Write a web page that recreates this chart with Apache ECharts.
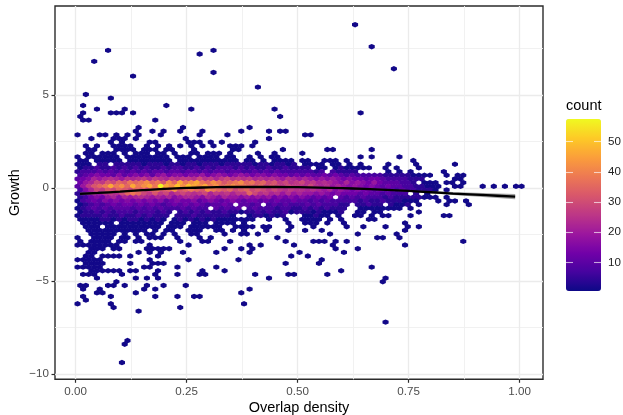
<!DOCTYPE html>
<html><head><meta charset="utf-8">
<style>html,body{margin:0;padding:0;background:#fff}#c{width:623px;height:415px}</style>
<script src="https://cdn.jsdelivr.net/npm/echarts@6/dist/echarts.min.js"></script>
</head><body><div id="c"></div>
<script>
// Hexagon lattice (stat_binhex-style bins)
const rowTopY = 8.78, rowStepY = 0.1975, colStepX = 0.0125, colStartX = [0.0044, 0.0106];
// count codes
const countCodes = {a:1,b:4,c:7,d:10,e:13,f:16,g:19,h:22,i:24,j:26,k:29,l:32,m:35,n:38,o:42,p:46,q:50,r:57};
// rows of single-count cells: [row, columns]
const sparseRows = [
[0,[50]],[6,[53]],[7,[5,24]],[8,[22]],[10,[3]],[12,[57]],[13,[24]],[14,[10]],[17,[32]],[19,[1]],[20,[6]],
[22,[1,16]],[23,[3,8,20,35]],[24,[1,6,7,8,10,51]],[25,[0,36]],[26,[1,2,14]],[28,[11,19,31]],
[29,[10,13,15,18,22,29,34,36,37]],[30,[0,4,5,7,9,11,15,22,27,41,42]],[31,[2,6,7,8,10,19,34]],
[32,[6,8,13,14,20,21,22,24,26,32]],[33,[1,3,6,7,8,9,12,14,16,18,20,22,24,27,28,29,31]],
[34,[2,3,7,8,9,10,12,13,14,16,17,21,28,29,37,45,46,53]],
[35,[1,2,4,5,6,8,10,11,12,14,15,17,20,21,23,24,25,27,32,35,40]],
[36,[0,2,3,4,5,6,7,9,10,11,12,13,14,15,16,18,19,20,22,23,24,25,27,28,31,33,35,36,51,53,58]],
[54,[1,2,3,4,5,6,8,9,10,11,12,13,14,15,17,18,19,21,22,23,25,26,27,28,30,38,41,42,43,45,48,59]],
[55,[1,2,3,5,6,7,8,9,10,11,12,13,14,16,17,18,20,21,22,23,24,25,28,29,30,31,33,34,38,42,48,51,55,59,61]],
[56,[2,3,4,5,6,7,8,9,10,11,12,14,16,17,20,21,22,25,26,28,30,34,38,41,44,59]],
[57,[2,3,4,5,6,8,10,12,13,15,17,20,21,26,29,30,32,45,50,57]],
[58,[0,3,4,5,6,8,9,11,13,14,15,18,22,24,36,54,55,58]],
[59,[0,2,3,4,5,7,8,10,11,18,22,23,27,37,42,43,44,46,48,69]],
[60,[0,1,2,3,4,5,6,7,13,20,31,33,39,46,59]],
[61,[2,3,4,6,7,12,13,14,15,16,26,29,31,46,50]],
[62,[2,3,11,13,15,19,25,31,40,48]],
[63,[1,2,4,5,6,7,9,14,38,41]],
[64,[0,1,2,3,4,13,20,29,44]],
[65,[1,2,3,4,9,13,14,15,37,43]],
[66,[0,1,2,3,4,12,13,18,25,53]],
[67,[2,3,4,5,6,7,9,10,14,22,26,47]],
[68,[1,2,3,8,14,18,22,23,32,38,39,45]],
[69,[3,10,12,14,34,55]],[70,[7,55]],[71,[0,1,5,6,8,12,15,19]],[72,[1,4,12,14,31]],[73,[3,4,10,29]],
[74,[1,6,14,18,21,22]],[75,[1]],[76,[0,6,30]],[77,[6,18]],[78,[11]],[81,[55]],[86,[9]],[87,[8]],[92,[8]]
];
// dense rows: one code per column, grouped by ten
const denseRows = [
[37,"aa.aaaaa.a aaaaaaa.aa aaaaaaaaa. aa.a.aaaa. aa..aaa.a. .......... a"],
[38,"aaa.bb.bbb bbabbbabba bbabbbabbb bbabbabbab .aaaa.aa.a .a....a... .a......a."],
[39,"abbcbbcbcb cbcbbcbccb bcbcbcccbc bcbbcbbcbb bb.aa.abaa aaa..a.a.. .a"],
[40,"bcccdcdcdc dcdcddcddc ddcdcddcdd ccdcdcdccc cccbc.cbbb b.....a.a. a.....a..."],
[41,"cdefeedfde fefdfgeffe ffgefgfefg feffefeede deddededcd cccccbbbbb aaaa..a.aa"],
[42,"defhghihgi hijhjihjij jikijhjkij ijhihihgih ghgfgfgfef eedeedcccc bbb.....aa"],
[43,"eghkjlkmln mnomnlompn opnmonlmno mnlmkljkij kijhihgfhf gfegedddcc b.aaa.aa.a"],
[44,"dgjlmnpnom pnopnrpoqo qpopnomnon nmlmklkjkj jikihighgf gfefededdc cbbaaa..aa ...a.a.a.aa"],
[45,"cfhkjlkmlk mlkmnlmolm nmlonmlmkl mklkjkjiji ihihghfgfe feededdcdc cbbba.a..."],
[46,"bdfhgijikm nmkjljkhjk jijkhjijhj jmkijhigig hggfgfefee ededdcdccc .b.a"],
[47,"bcefeghfhg hihghghfgh hgfhgfhggf gfgfgefefe fedede.dcd cdcccbcbbb bbaaa.a..."],
[48,"acdedfefef efefefdefe efdefedefe deedededde ddcdcdcccc cbcbbcbbba aa...a.aa. a"],
[49,"abcdcdedee dededcdede dedcdded.d dcd.cdcdcc cdcdcccbb. bbcbb.baab .a....a... a"],
[50,"abcdcdcddd cdcdcdcccd cdcc.dcdcd .cdcccbccb bcbcbcbbb. .aaaaaaaa. a"],
[51,"abbcbcbccc bcccbcb.bc bcbcbbcbba bbcbcbbcab bbabaaab.. aa.aa..... .a"],
[52,"abbbbcbbcb bcbcbbb.bb bcbbbbbba. .abbabab.. .aabaa.a.. aa.a.aa... a.....aa.."],
[53,"aaaabbabab bababa.aba bababaaaaa aa..a..a.. aaaa.a.a.. ..aa......"]
];
// fitted curve and its ribbon
const smoothX = [0.01,0.05,0.1,0.15,0.2,0.25,0.3,0.35,0.4,0.45,0.5,0.55,0.6,0.65,0.7,0.75,0.8,0.85,0.9,0.95,0.99];
const smoothY = [-0.32,-0.27,-0.2,-0.12,-0.05,0,0.03,0.05,0.05,0.05,0.04,0.02,-0.01,-0.05,-0.1,-0.16,-0.23,-0.3,-0.36,-0.42,-0.47];
const smoothBand = [0.09,0.07,0.05,0.04,0.04,0.03,0.03,0.03,0.03,0.03,0.03,0.03,0.03,0.04,0.04,0.05,0.06,0.08,0.1,0.12,0.14];
const xTicks = [0,0.25,0.5,0.75,1], xMinor = [0.125,0.375,0.625,0.875];
const yTicks = [-10,-5,0,5], yMinor = [-7.5,-2.5,2.5,7.5];
const legendTicks = [10,20,30,40,50];
const plasma = ['#0d0887','#46039f','#7201a8','#9c179e','#bd3786','#d8576b','#ed7953','#fb9f3a','#fdca26','#f0f921'];

const cells = [];
const addCell = (row, col, n) => cells.push([colStartX[row % 2] + col * colStepX, rowTopY - row * rowStepY, n]);
sparseRows.forEach(([row, cols]) => cols.forEach(c => addCell(row, c, 1)));
denseRows.forEach(([row, s]) => {
  s.replace(/ /g, '').split('').forEach((ch, c) => { if (ch !== '.') addCell(row, c, countCodes[ch]); });
});

const font = '"Liberation Sans", Arial, sans-serif';
const xLim = [-0.0464, 1.0527], yLim = [-10.29, 9.785];
const grey = '#4d4d4d', frame = '#2b2b2b';
const noLine = {show: false, onZero: false};
const ticks = v => ({show: true, length: 3.5, lineStyle: {color: frame, width: 1.2}, customValues: v});
const hidden = v => ({show: false, customValues: v});
const chart = echarts.init(document.getElementById('c'), null, {renderer: 'canvas'});
chart.setOption({
  animation: false,
  backgroundColor: '#fff',
  title: {text: 'count', left: 566, top: 98, padding: 0, textStyle: {fontFamily: font, fontSize: 14.5, fontWeight: 'normal', color: '#000'}},
  grid: [
    {left: 55, right: 80, top: 6, bottom: 35.7, show: true, borderColor: frame, borderWidth: 1.4, backgroundColor: '#fff', outerBoundsMode: 'none', containLabel: false},
    {left: 566, width: 35, top: 119, height: 172, show: false, outerBoundsMode: 'none', containLabel: false}
  ],
  visualMap: {type: 'continuous', seriesIndex: 0, dimension: 2, min: 0.5, max: 57.5, calculable: false, realtime: false,
    left: 566, top: 119, itemWidth: 35, itemHeight: 172, padding: 0, text: null, showLabel: false, hoverLink: false,
    inRange: {color: plasma}, textStyle: {color: 'transparent'}},
  xAxis: [
    {type: 'value', gridIndex: 0, min: xLim[0], max: xLim[1], position: 'bottom',
     name: 'Overlap density', nameLocation: 'middle', nameGap: 21, nameMoveOverlap: false,
     nameTextStyle: {fontFamily: font, fontSize: 14.5, color: '#000'},
     axisLine: noLine, axisTick: ticks(xTicks),
     axisLabel: {customValues: xTicks, margin: 6, fontFamily: font, fontSize: 11.6, color: grey, formatter: v => v.toFixed(2)},
     splitLine: {show: true, lineStyle: {color: '#ebebeb', width: 1.3}}},
    {type: 'value', gridIndex: 0, min: xLim[0], max: xLim[1], position: 'top',
     axisLine: noLine, axisTick: hidden(xMinor), axisLabel: {show: false, customValues: xMinor},
     splitLine: {show: true, lineStyle: {color: '#efefef', width: 0.9}}},
    {type: 'value', gridIndex: 1, min: 0, max: 1, show: false}
  ],
  yAxis: [
    {type: 'value', gridIndex: 0, min: yLim[0], max: yLim[1], position: 'left',
     name: 'Growth', nameLocation: 'middle', nameGap: 33, nameMoveOverlap: false,
     nameTextStyle: {fontFamily: font, fontSize: 14.5, color: '#000'},
     axisLine: noLine, axisTick: ticks(yTicks),
     axisLabel: {customValues: yTicks, margin: 6, fontFamily: font, fontSize: 11.6, color: grey, formatter: v => String(v).replace('-', '\u2212')},
     splitLine: {show: true, lineStyle: {color: '#ebebeb', width: 1.3}}},
    {type: 'value', gridIndex: 0, min: yLim[0], max: yLim[1], position: 'right',
     axisLine: noLine, axisTick: hidden(yMinor), axisLabel: {show: false, customValues: yMinor},
     splitLine: {show: true, lineStyle: {color: '#efefef', width: 0.9}}},
    {type: 'value', gridIndex: 1, min: 0.5, max: 57.5, position: 'left', z: 10,
     axisLine: noLine, splitLine: {show: false}, axisLabel: {show: false, customValues: legendTicks},
     axisTick: {show: true, inside: true, length: 7, lineStyle: {color: 'rgba(255,255,255,0.65)', width: 1.1}, customValues: legendTicks}},
    {type: 'value', gridIndex: 1, min: 0.5, max: 57.5, position: 'right', z: 10,
     axisLine: noLine, splitLine: {show: false},
     axisLabel: {customValues: legendTicks, margin: 7, fontFamily: font, fontSize: 11.6, color: '#222'},
     axisTick: {show: true, inside: true, length: 7, lineStyle: {color: 'rgba(255,255,255,0.65)', width: 1.1}, customValues: legendTicks}}
  ],
  series: [
    {type: 'scatter', xAxisIndex: 0, yAxisIndex: 0, z: 2, silent: true, data: cells,
     symbol: 'path://M0,-1 L0.866,-0.5 L0.866,0.5 L0,1 L-0.866,0.5 L-0.866,-0.5 Z',
     symbolSize: [6.1, 5.4], symbolKeepAspect: false, itemStyle: {opacity: 1}},
    {type: 'custom', xAxisIndex: 0, yAxisIndex: 0, z: 3, silent: true,
     data: smoothX.map((x, i) => [x, smoothY[i] - smoothBand[i], smoothY[i] + smoothBand[i]]),
     encode: {x: 0, y: [1, 2]},
     renderItem: (p, api) => {
       if (p.dataIndex !== 0) return null;
       const upper = smoothX.map((x, i) => api.coord([x, smoothY[i] + smoothBand[i]]));
       const lower = smoothX.map((x, i) => api.coord([x, smoothY[i] - smoothBand[i]])).reverse();
       return {type: 'polygon', shape: {points: upper.concat(lower)}, style: {fill: 'rgba(90,90,90,0.55)'}};
     }},
    {type: 'line', xAxisIndex: 0, yAxisIndex: 0, z: 4, silent: true, showSymbol: false, smooth: true,
     data: smoothX.map((x, i) => [x, smoothY[i]]), lineStyle: {color: '#000', width: 2.3}}
  ]
});
</script></body></html>
